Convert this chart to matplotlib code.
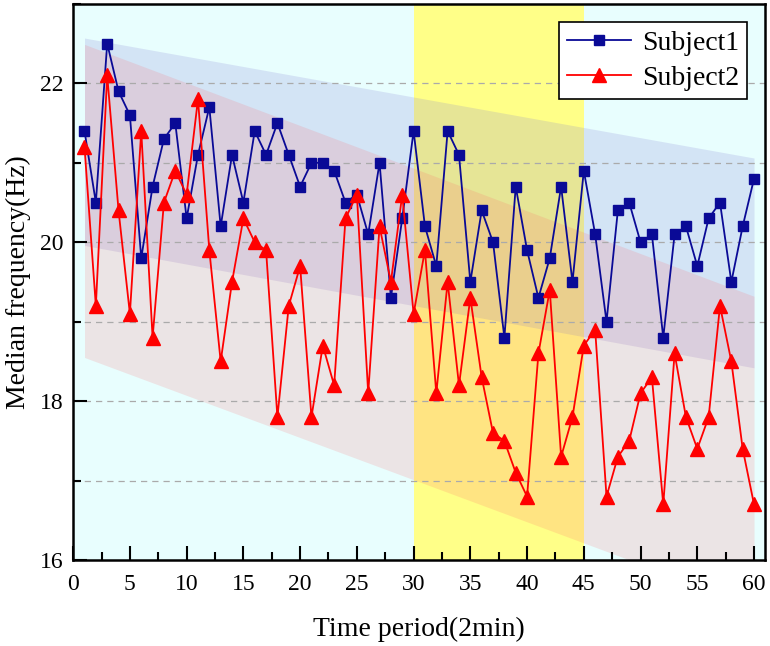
import matplotlib
matplotlib.use("Agg")
import matplotlib.pyplot as plt
import numpy as np
from matplotlib.ticker import MultipleLocator

plt.rcParams['font.family'] = ['Liberation Serif', 'DejaVu Serif']

periods = list(range(1, 61))
subject1 = [21.4, 20.5, 22.5, 21.9, 21.6, 19.8, 20.7, 21.3, 21.5, 20.3,
            21.1, 21.7, 20.2, 21.1, 20.5, 21.4, 21.1, 21.5, 21.1, 20.7,
            21.0, 21.0, 20.9, 20.5, 20.6, 20.1, 21.0, 19.3, 20.3, 21.4,
            20.2, 19.7, 21.4, 21.1, 19.5, 20.4, 20.0, 18.8, 20.7, 19.9,
            19.3, 19.8, 20.7, 19.5, 20.9, 20.1, 19.0, 20.4, 20.5, 20.0,
            20.1, 18.8, 20.1, 20.2, 19.7, 20.3, 20.5, 19.5, 20.2, 20.8]
subject2 = [21.2, 19.2, 22.1, 20.4, 19.1, 21.4, 18.8, 20.5, 20.9, 20.6,
            21.8, 19.9, 18.5, 19.5, 20.3, 20.0, 19.9, 17.8, 19.2, 19.7,
            17.8, 18.7, 18.2, 20.3, 20.6, 18.1, 20.2, 19.5, 20.6, 19.1,
            19.9, 18.1, 19.5, 18.2, 19.3, 18.3, 17.6, 17.5, 17.1, 16.8,
            18.6, 19.4, 17.3, 17.8, 18.7, 18.9, 16.8, 17.3, 17.5, 18.1,
            18.3, 16.7, 18.6, 17.8, 17.4, 17.8, 19.2, 18.5, 17.4, 16.7]

band_x = [1, 60]
s1_upper = [22.57, 21.06]
s1_lower = [19.96, 18.42]
s2_upper = [22.49, 19.32]
s2_lower = [18.55, 15.42]

phase_edges = [0, 30, 45, 61]
phase_colors = ['#E8FEFE', '#FFFF88', '#E8FEFE']

fig = plt.figure(figsize=(7.7, 6.46), dpi=100)
ax = fig.add_axes([0.095, 0.133, 0.899, 0.861])

for i in range(len(phase_colors)):
    ax.axvspan(phase_edges[i], phase_edges[i + 1], color=phase_colors[i], lw=0, zorder=0)

ax.fill_between(band_x, s1_lower, s1_upper, color=(130/255, 125/255, 210/255), alpha=0.2, lw=0, zorder=1)
ax.fill_between(band_x, s2_lower, s2_upper, color=(1.0, 93/255, 99/255), alpha=0.16, lw=0, zorder=1)

for yv in [17, 18, 19, 20, 21, 22]:
    ax.axhline(yv, color='#AAAAAA', lw=0.9, ls=(0, (5, 4)), zorder=1.5)

ax.plot(periods, subject1, color='#0A0A96', lw=1.3, marker='s', ms=7.5,
        mfc='#0A0A96', mec='#0A0A96', label='Subject1', zorder=3)
ax.plot(periods, subject2, color='#FF0000', lw=1.3, marker='^', ms=9.5,
        mfc='#FF0000', mec='#FF0000', label='Subject2', zorder=3)

ax.set_xlim(0, 61)
ax.set_ylim(16, 23)
ax.xaxis.set_major_locator(MultipleLocator(5))
ax.xaxis.set_minor_locator(MultipleLocator(2.5))
ax.yaxis.set_major_locator(MultipleLocator(2))
ax.yaxis.set_minor_locator(MultipleLocator(1))
ax.tick_params(which='both', direction='in', top=False, right=False, labelsize=17, width=1.5)
ax.tick_params(which='major', length=10)
ax.tick_params(which='minor', length=5.5)
ax.tick_params(axis='x', which='major', pad=10)
ax.tick_params(axis='y', which='major', pad=7)
for s in ax.spines.values():
    s.set_linewidth(1.8)

ax.set_xlabel('Time period(2min)', fontsize=20, labelpad=16)
ax.set_ylabel('Median frequency(Hz)', fontsize=20, labelpad=6)

leg = ax.legend(loc='upper right', fontsize=20, frameon=True, fancybox=False,
                edgecolor='black', framealpha=1, borderpad=0.3, handlelength=2.3,
                labelspacing=0.35, handletextpad=0.4, borderaxespad=0.65)
leg.get_frame().set_linewidth(1.2)

fig.savefig('out.png', dpi=100)
